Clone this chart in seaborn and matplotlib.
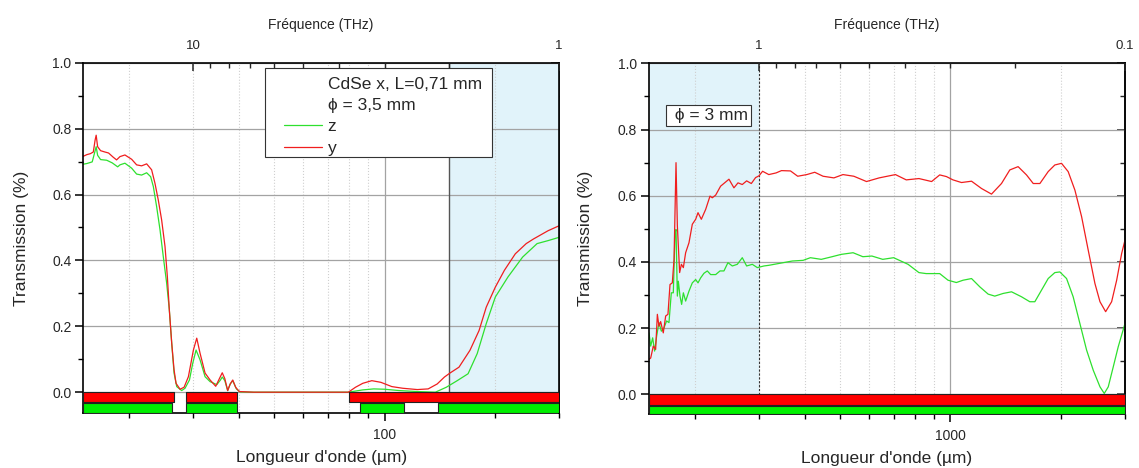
import matplotlib
matplotlib.use("Agg")
import pandas as pd
import matplotlib.pyplot as plt
import seaborn as sns
from matplotlib.lines import Line2D
from matplotlib.patches import Rectangle
from matplotlib.ticker import FixedLocator, NullFormatter, FormatStrFormatter

# ------------------ Left panel : CdSe x, L=0,71 mm, phi = 3,5 mm ------------------
left_wl_y = [15.0, 15.34, 15.69, 15.98, 16.16, 16.27, 16.42, 16.73, 17.19, 17.59, 18.08, 18.50,
             18.90, 19.50, 20.34, 20.99, 21.66, 22.36, 23.07, 23.56, 24.06, 24.57, 25.10, 25.47,
             25.79, 26.18, 26.57, 26.90, 27.59, 28.30, 29.08, 30.01, 30.65, 31.30, 32.30, 33.34,
             34.54, 35.34, 35.99, 36.58, 37.24, 37.84, 38.45, 39.16, 40.06,
             43.89, 79.6, 83.27, 87.2, 92.3, 97.7, 104.7, 112.1, 122.9, 131.6, 139.3, 145.8,
             150.9, 159.8, 171.2, 181.3, 189.7, 200.9, 212.7, 227.8, 244.0, 255.4, 279.9, 300.0]
left_y = [0.716, 0.721, 0.724, 0.729, 0.765, 0.780, 0.745, 0.733, 0.729, 0.726, 0.714, 0.705,
          0.715, 0.720, 0.707, 0.690, 0.687, 0.693, 0.675, 0.634, 0.583, 0.523, 0.442, 0.351,
          0.250, 0.149, 0.068, 0.027, 0.009, 0.015, 0.047, 0.128, 0.164, 0.118, 0.058, 0.037,
          0.018, 0.041, 0.059, 0.041, 0.005, 0.025, 0.037, 0.015, 0.002,
          0.0, 0.0, 0.015, 0.027, 0.035, 0.030, 0.017, 0.012, 0.008, 0.010, 0.025, 0.046,
          0.058, 0.076, 0.127, 0.187, 0.258, 0.319, 0.370, 0.420, 0.451, 0.465, 0.490, 0.505]

left_wl_z = [15.0, 15.34, 15.87, 16.13, 16.27, 16.42, 16.73, 17.39, 18.00, 18.63,
             18.90, 19.50, 20.34, 20.99, 21.66, 22.36, 22.93, 23.32, 23.81, 24.32, 24.83, 25.36,
             25.79, 26.18, 26.57, 27.02, 27.88, 28.47, 29.27, 29.89, 30.52, 31.30, 32.30, 33.34,
             34.78, 35.58, 35.99, 36.58, 37.24, 37.84, 38.45, 39.34, 40.25, 43.89, 79.6, 87.2,
             93.4, 100.0, 109.6, 122.9, 137.7, 147.5, 158.0, 169.2, 179.2, 189.7, 200.9, 217.6,
             238.5, 261.3, 279.9, 300.0]
left_z = [0.692, 0.694, 0.699, 0.729, 0.745, 0.719, 0.706, 0.704, 0.696, 0.684,
          0.690, 0.695, 0.680, 0.662, 0.659, 0.666, 0.654, 0.624, 0.563, 0.493, 0.411, 0.331,
          0.250, 0.149, 0.058, 0.017, 0.005, 0.012, 0.037, 0.088, 0.128, 0.098, 0.047, 0.032,
          0.023, 0.037, 0.046, 0.035, 0.005, 0.025, 0.035, 0.010, 0.001, 0.0, 0.0, 0.007,
          0.010, 0.009, 0.005, 0.002, 0.0, 0.015, 0.035, 0.056, 0.117, 0.208, 0.289, 0.350,
          0.410, 0.451, 0.460, 0.470]

# bands under the curves (start, end) in um
left_red_bands = [(15.0, 26.6), (28.6, 39.6), (80.0, 300.0)]
left_green_bands = [(15.0, 26.3), (28.6, 39.6), (85.7, 113.0), (140.0, 300.0)]

# ------------------ Right panel : phi = 3 mm ------------------
right_wl_y = [150.0, 151.6, 154.1, 156.4, 158.1, 159.7, 161.4, 164.1, 166.6, 169.0, 171.2, 173.7,
              175.6, 177.8, 179.3, 181.9, 183.9, 186.2, 188.9, 192.9, 197.0, 201.2, 204.2, 208.5,
              214.3, 220.2, 223.4, 228.2, 235.4, 241.4, 248.1, 256.0, 262.6, 269.8, 277.3, 285.6,
              293.4, 299.6, 306.6, 318.8, 333.7, 345.3, 365.5, 382.4, 404.9, 425.7, 448.6, 480.3,
              508.5, 544.4, 589.6, 638.5, 707.4, 757.3, 820.2, 888.3, 934.7, 975, 1016, 1072,
              1142, 1216, 1295, 1379, 1453, 1531, 1614, 1684, 1756, 1850, 1929, 2012,
              2098, 2189, 2283, 2380, 2483, 2563, 2656, 2758, 2847, 2938, 3000]
right_y = [0.106, 0.110, 0.146, 0.136, 0.242, 0.206, 0.220, 0.186, 0.237, 0.242, 0.332, 0.337,
           0.408, 0.700, 0.510, 0.368, 0.393, 0.383, 0.428, 0.458, 0.514, 0.529, 0.549, 0.529,
           0.559, 0.599, 0.594, 0.602, 0.629, 0.639, 0.650, 0.624, 0.639, 0.634, 0.645, 0.637,
           0.655, 0.660, 0.674, 0.664, 0.669, 0.676, 0.675, 0.659, 0.664, 0.671, 0.659, 0.654,
           0.664, 0.659, 0.643, 0.654, 0.664, 0.648, 0.652, 0.643, 0.663, 0.658, 0.648, 0.640,
           0.644, 0.622, 0.605, 0.637, 0.678, 0.688, 0.663, 0.637, 0.637, 0.673, 0.693, 0.698,
           0.673, 0.617, 0.537, 0.436, 0.335, 0.280, 0.250, 0.280, 0.345, 0.426, 0.466]

right_wl_z = [150.0, 151.6, 153.5, 155.4, 157.4, 159.7, 162.1, 164.8, 167.6, 170.1, 172.6, 174.8,
              176.7, 177.8, 179.3, 180.4, 182.3, 184.2, 186.2, 188.9, 192.9, 197.0, 201.2, 204.2,
              207.6, 212.0, 216.5, 221.1, 228.2, 234.5, 240.4, 246.5, 253.4, 261.5, 269.8, 277.3,
              287.4, 296.6, 309.2, 318.8, 341.4, 369.7, 395.7, 414.2, 443.6, 474.9, 502.7, 541.9,
              576.3, 610.1, 653.1, 699.3, 766.0, 820.2, 858.4, 934.7, 985, 1038, 1083, 1142,
              1203, 1268, 1322, 1393, 1469, 1564, 1648, 1701, 1774, 1850, 1929, 1991,
              2077, 2165, 2259, 2356, 2457, 2563, 2633, 2700, 2786, 2875, 3000]
right_z = [0.186, 0.146, 0.171, 0.131, 0.176, 0.217, 0.191, 0.201, 0.222, 0.217, 0.307, 0.307,
           0.488, 0.498, 0.297, 0.342, 0.297, 0.272, 0.307, 0.282, 0.312, 0.337, 0.347, 0.337,
           0.352, 0.366, 0.373, 0.362, 0.362, 0.373, 0.373, 0.398, 0.388, 0.393, 0.413, 0.388,
           0.393, 0.383, 0.388, 0.390, 0.396, 0.403, 0.405, 0.413, 0.408, 0.416, 0.423, 0.428,
           0.416, 0.418, 0.408, 0.413, 0.393, 0.368, 0.365, 0.365, 0.345, 0.338, 0.345, 0.350,
           0.325, 0.303, 0.297, 0.305, 0.310, 0.295, 0.280, 0.280, 0.315, 0.350, 0.368, 0.370,
           0.350, 0.295, 0.214, 0.134, 0.073, 0.023, 0.003, 0.023, 0.083, 0.144, 0.214]

right_red_bands = [(150.0, 3000.0)]
right_green_bands = [(150.0, 3000.0)]

# axis settings
left_xlim = (15, 300)
right_xlim = (150, 3000)
left_major = [100]
right_major = [1000]
left_minor = [20, 30, 40, 50, 60, 70, 80, 90, 200, 300]
right_minor = [200, 300, 400, 500, 600, 700, 800, 900, 2000, 3000]
left_freq_major = [10, 1]
left_freq_labels = ["10", "1"]
left_freq_minor = [2, 3, 4, 5, 6, 7, 8, 9]
right_freq_major = [1, 0.1]
right_freq_labels = ["1", "0.1"]
right_freq_minor = [0.2, 0.3, 0.4, 0.5, 0.6, 0.7, 0.8, 0.9]
shade_span = (150, 300)

RED = "#f01e1e"
GREEN = "#2ee02e"
BAND_RED = "#ff0000"
BAND_GREEN = "#00f000"
C_THZ_UM = 300.0  # f (THz) = 300 / lambda (um)

sns.set_theme(style="ticks")
plt.rcParams['font.family'] = ['Liberation Sans', 'DejaVu Sans']

fig = plt.figure(figsize=(11.39, 4.68), dpi=100)
axL = fig.add_axes([0.0731, 0.1169, 0.4177, 0.7491])
axR = fig.add_axes([0.5698, 0.1147, 0.4179, 0.7500])


def draw_panel(ax, wl_z, z, wl_y, y, red_bands, green_bands, xlim, ylim, band_red_y, band_green_y,
               major, minor, f_major, f_labels, f_minor):
    df_z = pd.DataFrame({"wl": wl_z, "T": z})
    df_y = pd.DataFrame({"wl": wl_y, "T": y})
    sns.lineplot(data=df_z, x="wl", y="T", ax=ax, color=GREEN, lw=0.9, estimator=None, sort=False, zorder=2)
    sns.lineplot(data=df_y, x="wl", y="T", ax=ax, color=RED, lw=0.9, estimator=None, sort=False, zorder=2)

    ax.broken_barh([(a, b - a) for a, b in red_bands], band_red_y,
                   facecolors=BAND_RED, edgecolors="#222222", linewidth=0.8, zorder=3)
    ax.broken_barh([(a, b - a) for a, b in green_bands], band_green_y,
                   facecolors=BAND_GREEN, edgecolors="#222222", linewidth=0.8, zorder=3)

    ax.axvspan(*shade_span, color="#e1f3fa", lw=0, zorder=0.2)

    ax.set_xscale("log")
    ax.set_xlim(*xlim)
    ax.set_ylim(*ylim)

    ax.set_xticks(major, [str(m) for m in major])
    ax.xaxis.set_minor_locator(FixedLocator(minor))
    ax.xaxis.set_minor_formatter(NullFormatter())
    ax.set_yticks([0.0, 0.2, 0.4, 0.6, 0.8, 1.0])
    ax.yaxis.set_minor_locator(FixedLocator([0.1, 0.3, 0.5, 0.7, 0.9]))
    ax.yaxis.set_major_formatter(FormatStrFormatter("%.1f"))

    ax.tick_params(axis="both", which="major", direction="out", length=6, width=1.1, color="black")
    ax.tick_params(axis="both", which="minor", direction="out", length=3.5, width=1.0, color="black")
    ax.tick_params(axis="x", which="major", labelsize=10, pad=4.5)
    ax.tick_params(axis="y", which="major", labelsize=10, pad=2.5)
    ax.tick_params(axis="both", which="both", bottom=True, left=True, top=False, right=False)

    ax.set_axisbelow(True)
    ax.grid(True, which="major", axis="both", color="#a3a3a3", lw=0.9, ls="-")
    ax.grid(True, which="minor", axis="x", color="#cfcfcf", lw=0.8, ls=":")

    for s in ax.spines.values():
        s.set_color("black")
        s.set_linewidth(1.2)

    ax.set_xlabel("Longueur d'onde (\u00b5m)", fontsize=12.5)
    ax.set_ylabel("Transmission (%)", fontsize=12.5)
    ax.xaxis.set_label_coords(0.5, -0.105)

    # right-side inner ticks
    sec = ax.secondary_yaxis("right")
    sec.set_yticks([0.0, 0.2, 0.4, 0.6, 0.8, 1.0])
    sec.yaxis.set_minor_locator(FixedLocator([0.1, 0.3, 0.5, 0.7, 0.9]))
    sec.tick_params(axis="y", which="major", direction="in", length=6, width=1.1, labelright=False)
    sec.tick_params(axis="y", which="minor", direction="in", length=3.5, width=1.0)
    sec.spines["right"].set_linewidth(1.2)

    # frequency axis on top
    axT = ax.twiny()
    axT.set_xscale("log")
    axT.set_xlim(C_THZ_UM / xlim[0], C_THZ_UM / xlim[1])
    axT.set_xticks(f_major, f_labels)
    axT.xaxis.set_minor_locator(FixedLocator(f_minor))
    axT.xaxis.set_minor_formatter(NullFormatter())
    axT.tick_params(axis="x", which="major", direction="in", length=6, width=1.1, labelsize=9.5, pad=8)
    axT.tick_params(axis="x", which="minor", direction="in", length=3.5, width=1.0)
    for s in axT.spines.values():
        s.set_visible(False)
    axT.set_xlabel("Fr\u00e9quence (THz)", fontsize=10)
    axT.xaxis.set_label_coords(0.5, 1.097)
    return axT


draw_panel(axL, left_wl_z, left_z, left_wl_y, left_y, left_red_bands, left_green_bands,
           left_xlim, (-0.064, 1.0), (-0.030, 0.030), (-0.064, 0.031),
           left_major, left_minor, left_freq_major, left_freq_labels, left_freq_minor)
draw_panel(axR, right_wl_z, right_z, right_wl_y, right_y, right_red_bands, right_green_bands,
           right_xlim, (-0.060, 1.0), (-0.031, 0.031), (-0.060, 0.026),
           right_major, right_minor, right_freq_major, right_freq_labels, right_freq_minor)

axL.yaxis.set_label_coords(-0.114, 0.5)
axR.yaxis.set_label_coords(-0.118, 0.5)

# shaded-zone borders
axL.axvline(shade_span[0], color="#555555", lw=1.0, zorder=1)
axR.axvline(shade_span[1], color="#333333", lw=0.8, ls=(0, (2, 1.5)), zorder=1)

# legend of left panel (box drawn separately so the padding matches)
axL.add_patch(Rectangle((265 / 1139, 1 - 157 / 468), 227 / 1139, 89 / 468, transform=fig.transFigure,
                        facecolor="white", edgecolor="#333333", lw=0.8, zorder=4, clip_on=False))
blank = Line2D([], [], color="none")
h_z = Line2D([], [], color=GREEN, lw=0.9)
h_y = Line2D([], [], color=RED, lw=0.9)
leg = axL.legend([blank, blank, h_z, h_y],
                 ["CdSe x, L=0,71 mm", "\u03d5 = 3,5 mm", "z", "y"],
                 loc="upper left", bbox_to_anchor=(284 / 1139, 1 - 76.5 / 468),
                 bbox_transform=fig.transFigure, borderaxespad=0, borderpad=0, fontsize=12.5,
                 frameon=False, handlelength=2.19, handletextpad=0.33, labelspacing=0.36)
leg.set_zorder(5)

# note on right panel
axR.text(0.6222, 0.7532, " \u03d5 = 3 mm", transform=fig.transFigure, ha="center", va="center",
         fontsize=12.5, zorder=5,
         bbox=dict(boxstyle="square,pad=0.2", fc="white", ec="#333333", lw=0.8))

plt.savefig("out.png", dpi=100)
plt.close()
